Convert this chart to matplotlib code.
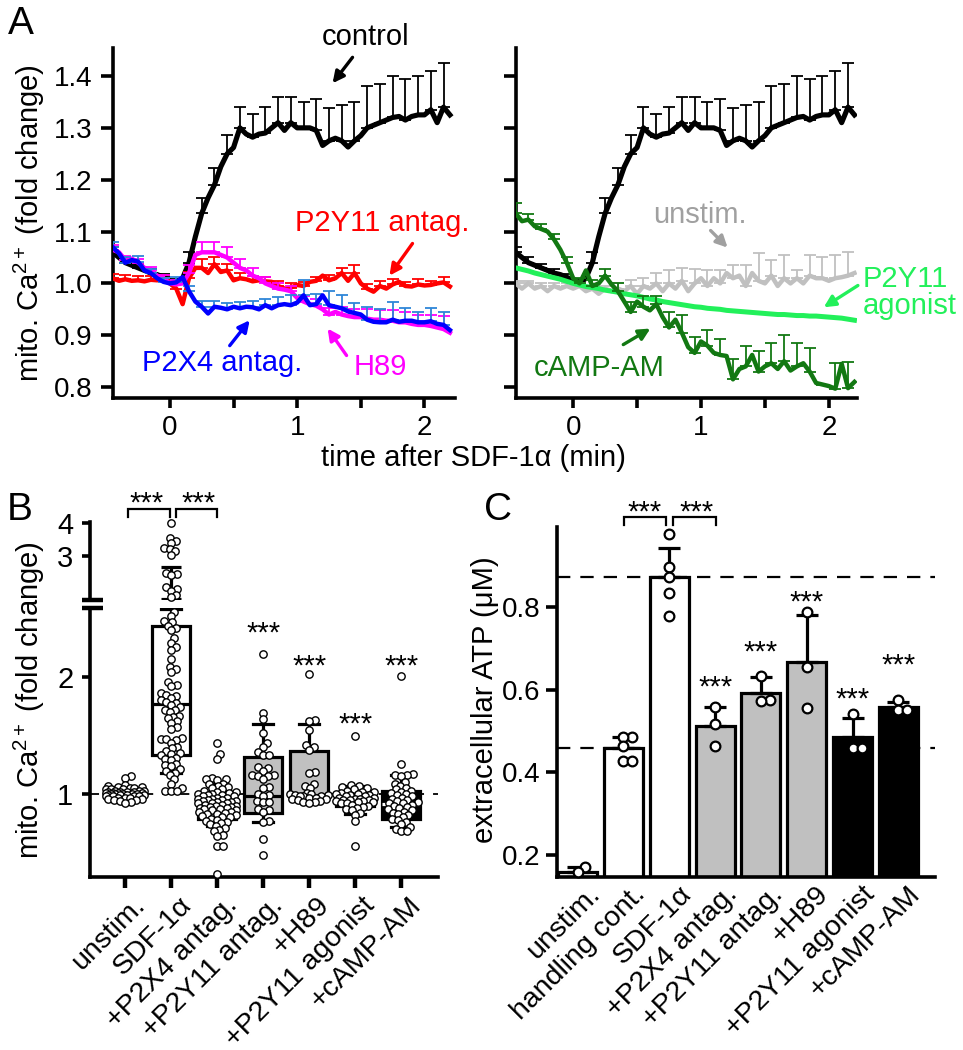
import numpy as np
import matplotlib
matplotlib.use("Agg")
import matplotlib.pyplot as plt
from matplotlib.transforms import ScaledTranslation

plt.rcParams['font.family'] = ['Liberation Sans', 'DejaVu Sans']
plt.rcParams['mathtext.fontset'] = 'custom'
plt.rcParams['mathtext.rm'] = 'Liberation Sans'
plt.rcParams['mathtext.it'] = 'Liberation Sans:italic'
plt.rcParams['mathtext.bf'] = 'Liberation Sans:bold'

# ---------------- Panel A data ----------------
t_min = [-0.45, -0.40, -0.35, -0.30, -0.25, -0.20, -0.15, -0.10, -0.05, 0.00,
         0.05, 0.10, 0.15, 0.20, 0.25, 0.30, 0.35, 0.40, 0.45, 0.50,
         0.55, 0.60, 0.65, 0.70, 0.75, 0.80, 0.85, 0.90, 0.95, 1.00,
         1.05, 1.10, 1.15, 1.20, 1.25, 1.30, 1.35, 1.40, 1.45, 1.50,
         1.55, 1.60, 1.65, 1.70, 1.75, 1.80, 1.85, 1.90, 1.95, 2.00,
         2.05, 2.10, 2.15, 2.20]

control = [1.060, 1.050, 1.040, 1.035, 1.030, 1.025, 1.020, 1.017, 1.012, 1.005,
           1.000, 1.010, 1.040, 1.090, 1.135, 1.165, 1.190, 1.225, 1.250, 1.262,
           1.300, 1.288, 1.282, 1.288, 1.290, 1.300, 1.310, 1.295, 1.310, 1.300,
           1.300, 1.300, 1.295, 1.266, 1.275, 1.280, 1.275, 1.263, 1.275, 1.285,
           1.300, 1.305, 1.310, 1.315, 1.320, 1.322, 1.315, 1.322, 1.325, 1.325,
           1.335, 1.310, 1.340, 1.325]
control_sem = [0.010, 0.010, 0.008, 0.007, 0.006, 0.008, 0.020, 0.030, 0.033, 0.036,
               0.040, 0.045, 0.050, 0.050, 0.050, 0.050, 0.060, 0.064, 0.070, 0.075,
               0.080, 0.075, 0.080, 0.080, 0.075, 0.075, 0.085]

p2y11_antag = [1.010, 1.005, 1.008, 1.005, 1.006, 1.004, 1.007, 1.006, 1.008, 1.000,
               0.990, 0.960, 1.010, 1.030, 1.030, 1.020, 1.037, 1.022, 1.025, 1.006,
               1.010, 1.008, 1.004, 1.006, 1.004, 1.003, 0.995, 0.990, 0.992, 0.997,
               0.995, 1.003, 1.005, 1.015, 1.006, 1.010, 1.020, 1.005, 1.020, 1.000,
               0.990, 0.984, 0.995, 0.990, 0.998, 1.003, 0.995, 0.994, 0.998, 0.996,
               0.997, 1.000, 1.002, 0.994]
p2y11_antag_sem = [0.008, 0.008, 0.008, 0.008, 0.008, 0.010, 0.012, 0.018, 0.014, 0.012,
                   0.010, 0.010, 0.008, 0.010, 0.008, 0.008, 0.008, 0.010, 0.010, 0.015,
                   0.008, 0.010, 0.010, 0.008, 0.010, 0.008, 0.010]

h89 = [1.065, 1.060, 1.045, 1.048, 1.040, 1.030, 1.025, 1.015, 1.010, 1.000,
       0.998, 1.000, 1.020, 1.055, 1.060, 1.060, 1.060, 1.055, 1.050, 1.040,
       1.030, 1.025, 1.015, 1.010, 1.000, 0.995, 0.990, 0.988, 0.985, 0.972,
       0.965, 0.960, 0.957, 0.950, 0.940, 0.945, 0.940, 0.937, 0.935, 0.935,
       0.932, 0.930, 0.930, 0.928, 0.928, 0.925, 0.925, 0.922, 0.920, 0.920,
       0.918, 0.915, 0.912, 0.905]
h89_sem = [0.010, 0.008, 0.008, 0.006, 0.006, 0.008, 0.015, 0.020, 0.020, 0.020,
           0.018, 0.015, 0.012, 0.010, 0.010, 0.010, 0.012, 0.012, 0.015, 0.015,
           0.018, 0.018, 0.020, 0.020, 0.020, 0.022, 0.025]

p2x4_antag = [1.070, 1.058, 1.040, 1.045, 1.042, 1.025, 1.020, 1.010, 1.003, 1.000,
              1.002, 1.012, 0.985, 0.965, 0.955, 0.942, 0.955, 0.953, 0.950, 0.955,
              0.952, 0.955, 0.954, 0.950, 0.958, 0.952, 0.958, 0.960, 0.958, 0.963,
              0.977, 0.958, 0.960, 0.977, 0.958, 0.955, 0.952, 0.946, 0.943, 0.940,
              0.930, 0.926, 0.925, 0.925, 0.930, 0.926, 0.928, 0.928, 0.925, 0.925,
              0.927, 0.922, 0.920, 0.910]
p2x4_antag_sem = [0.010, 0.010, 0.010, 0.008, 0.008, 0.010, 0.010, 0.012, 0.012, 0.012,
                  0.012, 0.012, 0.012, 0.015, 0.020, 0.030, 0.020, 0.028, 0.025, 0.020,
                  0.025, 0.025, 0.035, 0.025, 0.020, 0.025, 0.025]

unstim = [1.000, 0.990, 1.000, 0.990, 0.995, 0.985, 0.995, 0.990, 0.995, 0.990,
          0.995, 0.985, 0.990, 0.980, 0.990, 0.985, 0.990, 0.985, 0.995, 0.980,
          0.995, 0.990, 1.000, 0.985, 1.000, 0.990, 1.005, 0.985, 1.000, 1.010,
          0.995, 1.010, 1.000, 1.020, 1.010, 1.015, 0.995, 1.020, 1.005, 1.000,
          1.015, 0.995, 1.010, 1.000, 1.010, 1.000, 1.015, 1.010, 1.010, 1.005,
          1.010, 1.012, 1.015, 1.020]
unstim_sem = [0.005, 0.005, 0.005, 0.005, 0.005, 0.005, 0.005, 0.005, 0.010, 0.012,
              0.015, 0.020, 0.025, 0.025, 0.028, 0.030, 0.025, 0.025, 0.040, 0.053,
              0.030, 0.044, 0.015, 0.040, 0.040, 0.044, 0.045]

p2y11_agonist = [1.030, 1.027, 1.024, 1.020, 1.017, 1.014, 1.011, 1.008, 1.004, 1.000,
                 0.997, 0.994, 0.992, 0.990, 0.987, 0.985, 0.983, 0.980, 0.978, 0.976,
                 0.973, 0.970, 0.968, 0.965, 0.963, 0.961, 0.959, 0.957, 0.955, 0.954,
                 0.952, 0.951, 0.950, 0.948, 0.947, 0.946, 0.945, 0.944, 0.943, 0.942,
                 0.941, 0.940, 0.940, 0.939, 0.938, 0.938, 0.937, 0.937, 0.936, 0.935,
                 0.934, 0.933, 0.931, 0.929]

camp_am = [1.135, 1.120, 1.123, 1.110, 1.105, 1.100, 1.085, 1.065, 1.040, 1.010,
           1.000, 1.025, 0.995, 1.000, 1.015, 0.998, 0.985, 0.965, 0.945, 0.965,
           0.955, 0.948, 0.960, 0.935, 0.915, 0.930, 0.905, 0.877, 0.866, 0.888,
           0.880, 0.866, 0.862, 0.860, 0.815, 0.835, 0.840, 0.862, 0.830, 0.840,
           0.846, 0.835, 0.850, 0.832, 0.840, 0.846, 0.830, 0.808, 0.805, 0.802,
           0.797, 0.845, 0.798, 0.810]
camp_am_sem = [0.020, 0.010, 0.010, 0.010, 0.010, 0.010, 0.012, 0.012, 0.015, 0.020,
               0.020, 0.015, 0.030, 0.035, 0.030, 0.030, 0.030, 0.040, 0.040, 0.040,
               0.040, 0.050, 0.045, 0.045, np.nan, 0.050, 0.050]

# ---------------- Panel B data ----------------
b_groups = ['unstim.', 'SDF-1α', '+P2X4 antag.', '+P2Y11 antag.', '+H89',
            '+P2Y11 agonist', '+cAMP-AM']
b_q1 = [0.975, 1.33, 0.79, 0.84, 0.957, 0.90, 0.79]
b_med = [1.00, 1.77, 0.92, 0.98, 0.99, 0.95, 0.915]
b_q3 = [1.035, 2.44, 1.02, 1.32, 1.37, 1.00, 1.03]
b_whislo = [0.95, 1.18, 0.73, 0.76, 0.93, 0.83, 0.72]
b_whishi = [1.06, 2.585, 1.09, 1.60, 1.60, 1.07, 1.16]
sdf_whisker_upper = [1.70, 2.67]   # part of the SDF-1α whisker above the axis break

b_unstim = [1.15, 1.14, 1.08, 1.07, 1.06, 1.06, 1.05, 1.05, 1.04, 1.04, 1.04, 1.03, 1.03,
            1.03, 1.02, 1.02, 1.02, 1.02, 1.01, 1.01, 1.01, 1.01, 1.00, 1.00, 1.00, 1.00,
            1.00, 0.99, 0.99, 0.99, 0.99, 0.98, 0.98, 0.98, 0.98, 0.97, 0.97, 0.97, 0.96,
            0.96, 0.95, 0.95, 0.94, 0.93, 0.92]
b_sdf = [2.56, 2.52, 2.48, 2.47, 2.44, 2.42, 2.40, 2.33, 2.29, 2.26, 2.23, 2.15, 2.09,
         2.07, 2.04, 1.96, 1.93, 1.92, 1.86, 1.85, 1.84, 1.82, 1.80, 1.79, 1.78, 1.76,
         1.74, 1.72, 1.72, 1.70, 1.67, 1.66, 1.65, 1.62, 1.61, 1.57, 1.56, 1.48, 1.47,
         1.47, 1.46, 1.44, 1.40, 1.39, 1.37, 1.35, 1.34, 1.33, 1.31, 1.30, 1.29, 1.26,
         1.25, 1.24, 1.21, 1.20, 1.18, 1.16, 1.13, 1.09, 1.05, 1.03, 1.03, 1.03]
b_sdf_upper = [4.00, 3.55, 3.45, 3.38, 3.24, 3.20, 3.15, 3.03, 2.50, 2.45, 2.42,
               2.05, 2.00, 1.95, 1.82, 1.75]
b_p2x4 = [1.44, 1.34, 1.30, 1.14, 1.13, 1.13, 1.12, 1.09, 1.09, 1.07, 1.06, 1.05, 1.04,
          1.03, 1.02, 1.02, 1.01, 1.00, 1.00, 0.99, 0.99, 0.98, 0.98, 0.97, 0.97, 0.96,
          0.96, 0.95, 0.95, 0.94, 0.94, 0.93, 0.93, 0.92, 0.92, 0.92, 0.91, 0.91, 0.90,
          0.90, 0.89, 0.89, 0.88, 0.88, 0.87, 0.87, 0.86, 0.86, 0.85, 0.85, 0.84, 0.83,
          0.83, 0.82, 0.81, 0.80, 0.80, 0.79, 0.78, 0.77, 0.76, 0.75, 0.74, 0.73, 0.71,
          0.69, 0.68, 0.65, 0.64, 0.56, 0.56, 0.32]
b_p2y11_antag = [2.20, 1.69, 1.64, 1.52, 1.44, 1.40, 1.36, 1.33, 1.33, 1.23, 1.22, 1.20,
                 1.16, 1.15, 1.16, 1.15, 1.13, 1.06, 1.05, 1.00, 0.99, 0.98, 0.94, 0.93,
                 0.93, 0.87, 0.86, 0.85, 0.77, 0.76, 0.62, 0.48]
b_h89 = [2.03, 1.63, 1.62, 1.55, 1.42, 1.40, 1.38, 1.19, 1.18, 1.09, 1.07, 1.05, 1.01,
         1.00, 1.00, 0.99, 0.99, 0.98, 0.98, 0.98, 0.97, 0.97, 0.96, 0.96, 0.95, 0.94,
         0.93, 0.93, 0.92]
b_agonist = [1.50, 1.08, 1.07, 1.06, 1.05, 1.04, 1.03, 1.02, 1.02, 1.01, 1.00, 1.00, 0.99,
             0.99, 0.98, 0.98, 0.97, 0.97, 0.96, 0.96, 0.95, 0.95, 0.95, 0.94, 0.94, 0.93,
             0.93, 0.92, 0.92, 0.91, 0.90, 0.89, 0.88, 0.87, 0.86, 0.84, 0.82, 0.77, 0.56]
b_camp = [2.01, 1.26, 1.17, 1.16, 1.16, 1.15, 1.10, 1.09, 1.07, 1.05, 1.04, 1.03, 1.02,
          1.01, 1.00, 0.99, 0.98, 0.97, 0.96, 0.95, 0.94, 0.93, 0.92, 0.92, 0.91, 0.90,
          0.89, 0.88, 0.87, 0.86, 0.85, 0.84, 0.83, 0.82, 0.80, 0.79, 0.78, 0.76, 0.74,
          0.72, 0.70, 0.68, 0.68]
b_points = [b_unstim, b_sdf, b_p2x4, b_p2y11_antag, b_h89, b_agonist, b_camp]
b_fill = ['white', 'white', '#C0C0C0', '#C0C0C0', '#C0C0C0', 'black', 'black']
b_median_color = ['black', 'black', 'black', 'black', 'black', 'white', 'white']
b_star_idx = [3, 4, 5, 6]
b_star_y = [2.44, 2.16, 1.66, 2.16]

# ---------------- Panel C data ----------------
c_groups = ['unstim.', 'handling cont.', 'SDF-1α', '+P2X4 antag.', '+P2Y11 antag.',
            '+H89', '+P2Y11 agonist', '+cAMP-AM']
c_mean = [0.158, 0.459, 0.874, 0.513, 0.593, 0.668, 0.486, 0.559]
c_sd = [0.013, 0.027, 0.070, 0.046, 0.039, 0.114, 0.046, 0.012]
c_points = [[0.171, 0.158],
            [0.486, 0.486, 0.464, 0.428, 0.428],
            [0.976, 0.898, 0.874, 0.835, 0.779],
            [0.559, 0.518, 0.464],
            [0.634, 0.576, 0.572],
            [0.789, 0.656, 0.556],
            [0.542, 0.459, 0.459],
            [0.576, 0.551, 0.551]]
c_fill = ['white', 'white', 'white', '#C0C0C0', '#C0C0C0', '#C0C0C0', 'black', 'black']
c_star_idx = [3, 4, 5, 6, 7]
c_star_y = [0.624, 0.709, 0.830, 0.595, 0.678]
c_ref_lines = [0.874, 0.459]

# ---------------- helpers ----------------
W, H = 963, 1050
FS = 21
fig = plt.figure(figsize=(W / 100, H / 100), dpi=100)


def rect(x0, y0, x1, y1):
    return [x0 / W, 1 - y1 / H, (x1 - x0) / W, (y1 - y0) / H]


def style(ax, left=True, bottom=True):
    for s in ['top', 'right']:
        ax.spines[s].set_visible(False)
    ax.spines['left'].set_visible(left)
    ax.spines['bottom'].set_visible(bottom)
    for s in ['left', 'bottom']:
        ax.spines[s].set_linewidth(2.6)
    ax.tick_params(width=2.6, length=7.5, direction='out', labelsize=20, pad=6)


def swarm_x(ax, xc, vals, diam, maxw):
    vals = np.asarray(vals, float)
    pts = ax.transData.transform(np.column_stack([np.full(len(vals), xc), vals]))
    ypx = pts[:, 1]
    ppu = ax.transData.transform((xc + 1, 1))[0] - ax.transData.transform((xc, 1))[0]
    px, py = [], []
    offs = np.zeros(len(vals))
    for i in np.argsort(vals):
        y = ypx[i]
        cands = [0.0]
        for xj, yj in zip(px, py):
            dy = y - yj
            if abs(dy) < diam:
                dx = np.sqrt(diam ** 2 - dy ** 2)
                cands += [xj + dx, xj - dx]
        cands.sort(key=abs)
        chosen = None
        for c in cands:
            if abs(c) > maxw + 1e-9:
                continue
            if all((c - xj) ** 2 + (y - yj) ** 2 >= diam ** 2 - 1e-6 for xj, yj in zip(px, py)):
                chosen = c
                break
        if chosen is None:
            grid = np.linspace(-maxw, maxw, 17)
            chosen = max(grid, key=lambda c: min((c - xj) ** 2 + (y - yj) ** 2
                                                  for xj, yj in zip(px, py)))
        px.append(chosen)
        py.append(y)
        offs[i] = chosen
    return xc + offs / ppu


def star(ax, x, y, **kw):
    ax.annotate('***', xy=(x, y), xytext=(0, -11.5), textcoords='offset points',
                ha='center', va='baseline', fontsize=FS, annotation_clip=False, **kw)


# ---------------- Panel A ----------------
t = np.array(t_min)
te = t[::2]


def trace(ax, y, sem, color, ecolor, lw=3.0, z=2):
    y = np.array(y)
    if sem is not None:
        sem = np.array(sem)
        ax.errorbar(te, y[::2], yerr=[np.zeros_like(sem), sem], fmt='none', ecolor=ecolor,
                    elinewidth=1.3, capsize=4.5, capthick=1.3, zorder=z)
    ax.plot(t, y, color=color, lw=lw, zorder=z + 0.5)


axA1 = fig.add_axes(rect(113, 48, 455, 398))
axA2 = fig.add_axes(rect(516, 48, 857, 398))
for ax, xmax in [(axA1, 2.24), (axA2, 2.22)]:
    style(ax)
    ax.set_xlim(-0.447, xmax)
    ax.set_ylim(0.779, 1.454)
    ax.set_yticks([0.8, 0.9, 1.0, 1.1, 1.2, 1.3, 1.4])
    ax.set_xticks([0, 0.5, 1, 1.5, 2])
    ax.set_xticklabels(['0', '', '1', '', '2'])
    ax.tick_params(axis='x', pad=5)
    ax.tick_params(axis='y', length=9)
axA1.set_yticklabels(['0.8', '0.9', '1.0', '1.1', '1.2', '1.3', '1.4'])
axA2.set_yticklabels([])

trace(axA1, control, control_sem, 'black', 'black', lw=3.7, z=2)
trace(axA1, p2y11_antag, p2y11_antag_sem, '#FF0000', '#FF0000', lw=3.2, z=3)
trace(axA1, h89, h89_sem, '#FF00FF', '#FF00FF', lw=3.2, z=4)
trace(axA1, p2x4_antag, p2x4_antag_sem, '#0000FF', '#2E86D8', lw=3.2, z=5)

trace(axA2, control, control_sem, 'black', 'black', lw=3.7, z=2)
trace(axA2, unstim, unstim_sem, '#C0C0C0', '#C0C0C0', lw=3.2, z=3)
trace(axA2, p2y11_agonist, None, '#22F05A', '#22F05A', lw=3.6, z=4)
trace(axA2, camp_am, camp_am_sem, '#127812', '#127812', lw=3.2, z=5)

arrow_kw = dict(arrowstyle='-|>', lw=2.4, mutation_scale=17, shrinkA=0, shrinkB=0)


def label_arrow(ax, text, txy, tail, head, color, ha='center'):
    ax.text(txy[0], txy[1], text, color=color, fontsize=FS, ha=ha, va='center',
            clip_on=False, linespacing=0.95)
    ax.annotate('', xy=head, xytext=tail, annotation_clip=False,
                arrowprops=dict(color=color, **arrow_kw))


label_arrow(axA1, 'control', (1.537, 1.475), (1.435, 1.436), (1.278, 1.386), 'black')
label_arrow(axA1, 'P2Y11 antag.', (1.665, 1.116), (1.906, 1.077), (1.725, 1.015), '#FF0000')
label_arrow(axA1, 'P2X4 antag.', (0.41, 0.846), (0.47, 0.880), (0.627, 0.929), '#0000FF')
label_arrow(axA1, 'H89', (1.655, 0.838), (1.388, 0.861), (1.239, 0.913), '#FF00FF')
label_arrow(axA2, 'unstim.', (0.995, 1.131), (1.075, 1.102), (1.208, 1.069), '#A0A0A0')
label_arrow(axA2, 'P2Y11\nagonist', (2.267, 0.982), (2.227, 0.996), (1.96, 0.954),
            '#22F05A', ha='left')
label_arrow(axA2, 'cAMP-AM', (0.204, 0.836), (0.392, 0.882), (0.604, 0.913), '#127812')

fig.text(29 / W, 1 - 223 / H, 'mito. Ca$^{2+}$ (fold change)', rotation=90,
         ha='center', va='center', fontsize=FS)
fig.text(473 / W, 1 - 458 / H, 'time after SDF-1α (min)', ha='center', va='center',
         fontsize=FS)

# ---------------- Panel B ----------------
axB = fig.add_axes(rect(90, 608, 438, 877))
axBu = fig.add_axes(rect(90, 522, 438, 600))
style(axB)
style(axBu, bottom=False)
for ax in (axB, axBu):
    ax.set_xlim(-0.76, 6.8)
axB.set_ylim(0.291, 2.59)
axBu.set_ylim(1.667, 4.03)
axB.set_yticks([1, 2])
axB.set_yticklabels(['1', '2'])
axBu.set_yticks([3, 4])
axBu.set_yticklabels(['3', '4'])
axBu.set_xticks([])
for ax in (axB, axBu):
    ax.tick_params(axis='y', length=6, labelsize=21)
axB.tick_params(axis='x', length=8, width=3.2)

pos_b = np.arange(len(b_groups))
axB.axhline(1.0, color='black', lw=1.3, dashes=(5, 5), zorder=0.5)
stats = [dict(med=m, q1=a, q3=b, whislo=lo, whishi=hi, fliers=[])
         for m, a, b, lo, hi in zip(b_med, b_q1, b_q3, b_whislo, b_whishi)]
bp = axB.bxp(stats, positions=pos_b, widths=0.83, capwidths=0.43, patch_artist=True,
             showfliers=False,
             boxprops=dict(linewidth=2.3, edgecolor='black'),
             whiskerprops=dict(linewidth=2.3, color='black'),
             capprops=dict(linewidth=2.3, color='black'),
             medianprops=dict(linewidth=2.3), zorder=2)
for box, fc in zip(bp['boxes'], b_fill):
    box.set_facecolor(fc)
for med, mc in zip(bp['medians'], b_median_color):
    med.set_color(mc)

# SDF-1alpha whisker continuing above the break
axBu.vlines(pos_b[1], sdf_whisker_upper[0], sdf_whisker_upper[1], color='black', lw=2.3,
            zorder=2)
axBu.hlines(sdf_whisker_upper, pos_b[1] - 0.215, pos_b[1] + 0.215, color='black', lw=2.3,
            zorder=2)

for i, vals in enumerate(b_points):
    xs = swarm_x(axB, pos_b[i], vals, 5.8, 19)
    axB.plot(xs, vals, 'o', ms=5.3, mfc='white', mec='black', mew=1.0, zorder=4,
             clip_on=False, ls='none')
xs_u = swarm_x(axBu, pos_b[1], b_sdf_upper, 5.8, 19)
axBu.plot(xs_u, b_sdf_upper, 'o', ms=5.3, mfc='white', mec='black', mew=1.0, zorder=4,
          clip_on=False, ls='none')

# axis break marks
axB.plot([-0.023, 0.037], [1, 1], transform=axB.transAxes, color='black', lw=3.2,
         clip_on=False, solid_capstyle='butt')
axBu.plot([-0.023, 0.037], [0, 0], transform=axBu.transAxes, color='black', lw=3.2,
          clip_on=False, solid_capstyle='butt')

axB.set_xticks(pos_b)
axB.set_xticklabels(b_groups, rotation=45, ha='right', va='top', rotation_mode='anchor',
                    fontsize=20.5)
axB.tick_params(axis='x', pad=3)
offB = ScaledTranslation(7 / 100, 0, fig.dpi_scale_trans)
for lab in axB.get_xticklabels():
    lab.set_transform(lab.get_transform() + offB)

# brackets and stars (B)
for x0, x1 in [(0.06, 0.97), (1.1, 2.0)]:
    axBu.plot([x0, x0, x1, x1], [4.18, 4.42, 4.42, 4.18], color='black', lw=1.6,
              clip_on=False, solid_joinstyle='miter')
star(axBu, 0.46, 4.82)
star(axBu, 1.6, 4.82)
for i, y in zip(b_star_idx, b_star_y):
    star(axB, pos_b[i], y)

fig.text(29 / W, 1 - 700 / H, 'mito. Ca$^{2+}$ (fold change)', rotation=90,
         ha='center', va='center', fontsize=FS)

# ---------------- Panel C ----------------
axC = fig.add_axes(rect(557, 527, 935, 877))
style(axC)
axC.set_xlim(-0.45, 7.8)
axC.set_ylim(0.147, 0.994)
axC.set_yticks([0.2, 0.4, 0.6, 0.8])
axC.set_yticklabels(['0.2', '0.4', '0.6', '0.8'])
axC.tick_params(axis='y', length=8, pad=4)
pos_c = np.arange(len(c_groups))
for yv in c_ref_lines:
    axC.axhline(yv, color='black', lw=1.6, dashes=(6, 4.5), zorder=0.5)
axC.bar(pos_c, c_mean, width=0.85, color=c_fill, edgecolor='black', linewidth=2.3,
        zorder=2)
axC.errorbar(pos_c, c_mean, yerr=[np.zeros(len(c_sd)), c_sd], fmt='none', ecolor='black',
             elinewidth=2.3, capsize=8, capthick=2.3, zorder=3)
for i, vals in enumerate(c_points):
    xs = swarm_x(axC, pos_c[i], vals, 9.0, 12)
    axC.plot(xs, vals, 'o', ms=7, mfc='white', mec='black', mew=1.6, zorder=4,
             ls='none', clip_on=False)
axC.set_xticks(pos_c)
axC.set_xticklabels(c_groups, rotation=45, ha='right', va='top', rotation_mode='anchor',
                    fontsize=20.5)
axC.tick_params(axis='x', length=0, pad=3)
offC = ScaledTranslation(9 / 100, 0, fig.dpi_scale_trans)
for lab in axC.get_xticklabels():
    lab.set_transform(lab.get_transform() + offC)

for x0, x1 in [(1.01, 1.93), (2.08, 3.02)]:
    axC.plot([x0, x0, x1, x1], [1.0, 1.019, 1.019, 1.0], color='black', lw=1.6,
             clip_on=False, solid_joinstyle='miter')
star(axC, 1.47, 1.048)
star(axC, 2.6, 1.048)
for i, y in zip(c_star_idx, c_star_y):
    star(axC, pos_c[i], y)

fig.text(485 / W, 1 - 700 / H, 'extracellular ATP (μM)', rotation=90, ha='center',
         va='center', fontsize=FS)

# panel letters
fig.text(21 / W, 1 - 24 / H, 'A', ha='center', va='center', fontsize=28)
fig.text(20 / W, 1 - 510 / H, 'B', ha='center', va='center', fontsize=28)
fig.text(498 / W, 1 - 510 / H, 'C', ha='center', va='center', fontsize=28)

fig.savefig('out.png', dpi=100)
